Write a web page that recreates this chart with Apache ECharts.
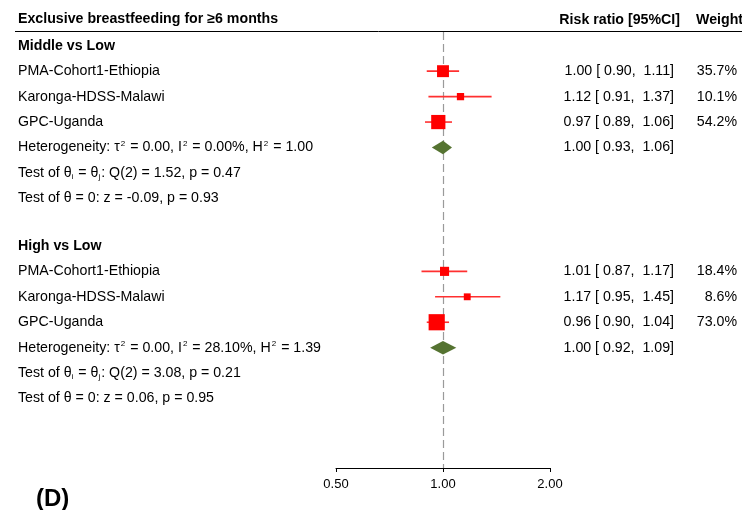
<!DOCTYPE html>
<html><head><meta charset="utf-8">
<script src="https://cdn.jsdelivr.net/npm/echarts@6/dist/echarts.min.js"></script>
<style>html,body{margin:0;padding:0;background:#fff}#c{width:742px;height:510px}</style>
</head><body><div id="c"></div>
<script>
// ---------- data ----------
const title = 'Exclusive breastfeeding for \u22656 months';
const colHeaders = ['Risk ratio [95%CI]', 'Weight'];
const panelLabel = '(D)';
const groups = ['Middle vs Low', 'High vs Low'];
const studies = ['PMA-Cohort1-Ethiopia', 'Karonga-HDSS-Malawi', 'GPC-Uganda'];
const rrMiddle = [1.00, 1.12, 0.97];
const loMiddle = [0.90, 0.91, 0.89];
const hiMiddle = [1.11, 1.37, 1.06];
const wMiddle = [35.7, 10.1, 54.2];
const rrHigh = [1.01, 1.17, 0.96];
const loHigh = [0.87, 0.95, 0.90];
const hiHigh = [1.17, 1.45, 1.04];
const wHigh = [18.4, 8.6, 73.0];
const pooledRR = [1.00, 1.00];
const pooledLo = [0.93, 0.92];
const pooledHi = [1.06, 1.09];
const tau2 = [0.00, 0.00];
const I2 = [0.00, 28.10];
const H2 = [1.00, 1.39];
const Qdf = [2, 2];
const Qstat = [1.52, 3.08];
const Qp = [0.47, 0.21];
const Zstat = [-0.09, 0.06];
const Zp = [0.93, 0.95];
const nullValue = 1;
const xMin = 0.5, xMax = 2;

// ---------- layout ----------
const FONT = '"Liberation Sans", Arial, Helvetica, sans-serif';
const FS = 14.2;
const groupOffset = [0, 7.87];
const X_LEFT = 18, X_RR = 674, X_W = 737;

const rr = [rrMiddle, rrHigh], lo = [loMiddle, loHigh], hi = [hiMiddle, hiHigh], wt = [wMiddle, wHigh];

const studyData = [], pooledData = [], textRows = [];
const f2 = v => v.toFixed(2);
groups.forEach((g, gi) => {
  const base = groupOffset[gi];
  textRows.push({row: base, left: g, bold: true});
  studies.forEach((s, si) => {
    const row = base + 1 + si;
    studyData.push([rr[gi][si], row, lo[gi][si], hi[gi][si], wt[gi][si]]);
    textRows.push({row, left: s,
      rr: `${f2(rr[gi][si])} [ ${f2(lo[gi][si])},  ${f2(hi[gi][si])}]`,
      w: `${wt[gi][si].toFixed(1)}%`});
  });
  pooledData.push([pooledRR[gi], base + 4, pooledLo[gi], pooledHi[gi]]);
  textRows.push({row: base + 4, rich: true,
    left: `{n|Heterogeneity: \u03c4}{sup|2}{n| = ${f2(tau2[gi])}, I}{sup|2}{n| = ${f2(I2[gi])}%, H}{sup|2}{n| = ${f2(H2[gi])}}`,
    rr: `${f2(pooledRR[gi])} [ ${f2(pooledLo[gi])},  ${f2(pooledHi[gi])}]`});
  textRows.push({row: base + 5, rich: true,
    left: `{n|Test of \u03b8}{sub|i}{n| = \u03b8}{sub|j}{n|: Q(${Qdf[gi]}) = ${f2(Qstat[gi])}, p = ${f2(Qp[gi])}}`});
  textRows.push({row: base + 6,
    left: `Test of \u03b8 = 0: z = ${f2(Zstat[gi])}, p = ${f2(Zp[gi])}`});
});

const rich = {
  n: {fontSize: FS, fontFamily: FONT, color: '#000', lineHeight: 16},
  sup: {fontSize: 8, fontFamily: FONT, color: '#000', verticalAlign: 'top', padding: [0, 1, 0, 1]},
  sub: {fontSize: 8, fontFamily: FONT, color: '#000', verticalAlign: 'bottom', padding: [0, 1, 0, 0]}
};

const chart = echarts.init(document.getElementById('c'), null, {renderer: 'canvas'});
chart.setOption({
  animation: false,
  backgroundColor: '#fff',
  textStyle: {fontFamily: FONT},
  grid: {left: 336, right: 192, top: 32, bottom: 42},
  xAxis: {
    type: 'log', logBase: 2, min: xMin, max: xMax, position: 'bottom',
    axisLine: {show: true, onZero: false, lineStyle: {color: '#000', width: 1}},
    axisTick: {show: true, length: 4, lineStyle: {color: '#000'}},
    axisLabel: {color: '#000', fontSize: 13, fontFamily: FONT, margin: 10, formatter: v => Number(v).toFixed(2)},
    splitLine: {show: false}, minorTick: {show: false}
  },
  yAxis: {type: 'value', inverse: true, min: -0.54, max: 16.6, show: false},
  graphic: [
    {type: 'text', left: X_LEFT, top: 12, style: {text: title, font: `bold ${FS}px ${FONT}`, fill: '#000'}},
    {type: 'text', x: 680, y: 20, style: {text: colHeaders[0], font: `bold ${FS}px ${FONT}`, fill: '#000', align: 'right', verticalAlign: 'middle'}},
    {type: 'text', x: 696, y: 20, style: {text: colHeaders[1], font: `bold ${FS}px ${FONT}`, fill: '#000', align: 'left', verticalAlign: 'middle'}},
    {type: 'line', shape: {x1: 15, y1: 31.5, x2: 742, y2: 31.5}, style: {stroke: '#000', lineWidth: 1}},
    {type: 'text', x: 36, y: 499, style: {text: panelLabel, font: `bold 24px ${FONT}`, fill: '#000', verticalAlign: 'middle'}}
  ],
  series: [
    {
      type: 'custom', name: 'nullLine', clip: false, silent: true, z: 1,
      data: [],
      renderItem: () => null,
      markLine: {
        silent: true, symbol: 'none', label: {show: false}, z: 1,
        lineStyle: {color: '#9a9a9a', type: [8, 4], width: 1.2},
        data: [{xAxis: nullValue}]
      }
    },
    {
      type: 'custom', name: 'studies', clip: false,
      data: studyData,
      encode: {x: [0, 2, 3], y: 1},
      renderItem: (params, api) => {
        const c = api.coord([api.value(0), api.value(1)]);
        const l = api.coord([api.value(2), api.value(1)]);
        const h = api.coord([api.value(3), api.value(1)]);
        const s = 2 + 1.66 * Math.sqrt(api.value(4));
        return {type: 'group', children: [
          {type: 'line', shape: {x1: l[0], y1: c[1], x2: h[0], y2: c[1]}, style: {stroke: '#ff3030', lineWidth: 1.6}},
          {type: 'rect', shape: {x: c[0] - s / 2, y: c[1] - s / 2, width: s, height: s}, style: {fill: '#ff0000'}}
        ]};
      },
      z: 3
    },
    {
      type: 'custom', name: 'pooled', clip: false,
      data: pooledData,
      encode: {x: [0, 2, 3], y: 1},
      renderItem: (params, api) => {
        const c = api.coord([api.value(0), api.value(1)]);
        const l = api.coord([api.value(2), api.value(1)]);
        const h = api.coord([api.value(3), api.value(1)]);
        const hh = 6.8;
        return {type: 'polygon', shape: {points: [[l[0], c[1]], [c[0], c[1] - hh], [h[0], c[1]], [c[0], c[1] + hh]]},
          style: {fill: '#557331'}};
      },
      z: 4
    },
    {
      type: 'custom', name: 'text', clip: false, silent: true,
      data: textRows.map(r => [1, r.row]),
      encode: {x: 0, y: 1},
      renderItem: (params, api) => {
        const r = textRows[params.dataIndex];
        const y = api.coord([1, api.value(1)])[1];
        const kids = [];
        if (r.rich) {
          kids.push({type: 'text', x: X_LEFT, y, style: {text: r.left, rich, align: 'left', verticalAlign: 'middle'}});
        } else {
          kids.push({type: 'text', x: X_LEFT, y, style: {text: r.left, font: `${r.bold ? 'bold ' : ''}${FS}px ${FONT}`, fill: '#000', align: 'left', verticalAlign: 'middle'}});
        }
        if (r.rr) kids.push({type: 'text', x: X_RR, y, style: {text: r.rr, font: `${FS}px ${FONT}`, fill: '#000', align: 'right', verticalAlign: 'middle'}});
        if (r.w) kids.push({type: 'text', x: X_W, y, style: {text: r.w, font: `${FS}px ${FONT}`, fill: '#000', align: 'right', verticalAlign: 'middle'}});
        return {type: 'group', children: kids};
      }
    }
  ]
});
</script></body></html>
